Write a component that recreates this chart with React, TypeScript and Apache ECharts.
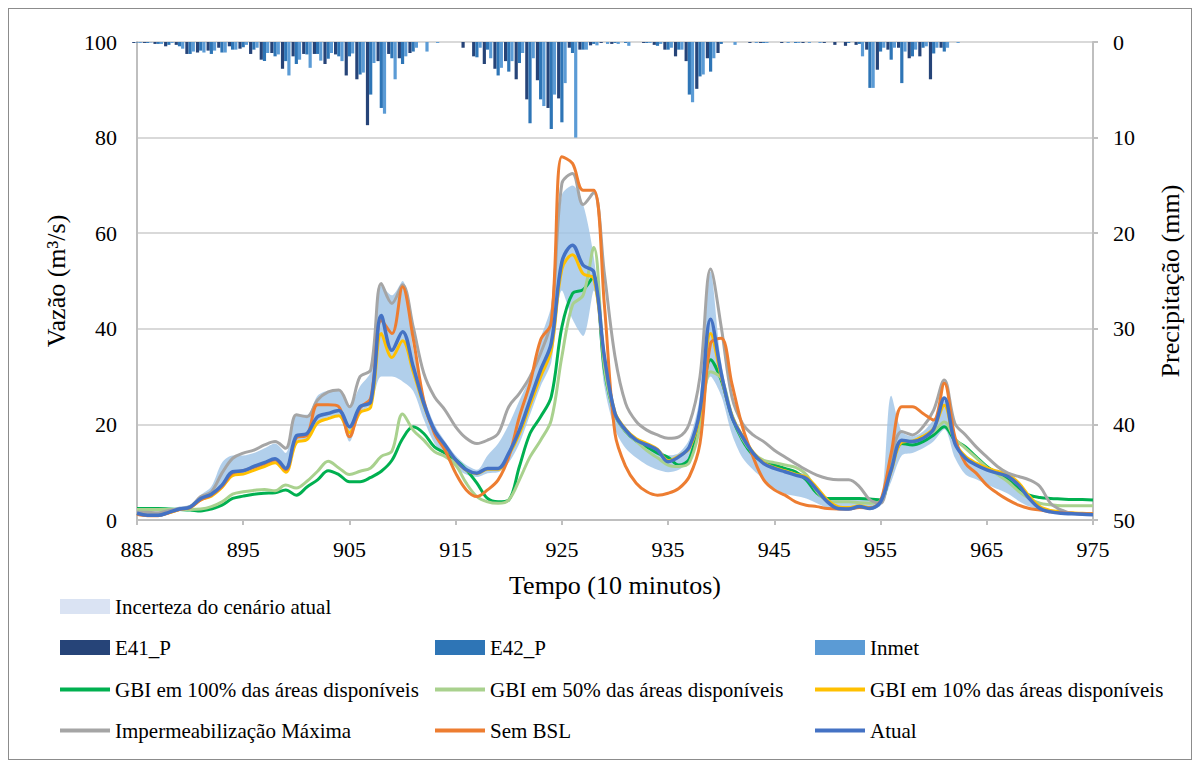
import React, { useEffect, useRef } from "react";
import * as echarts from "echarts";

// Time steps 885..975 (10-minute intervals)
const times: string[] = Array.from({ length: 91 }, (_, i) => String(885 + i));

// Precipitation (mm) — bars on inverted right axis
const e41P = [
  0.1, 0.1, 0.2, 0.45, 0.3, 1.25, 1.1, 0.9, 0.6, 0.45,
  0.7, 1.25, 1.85, 1.15, 2.8, 1.5, 1.25, 1.25, 2.3, 1.3,
  3.5, 3.9, 8.7, 2.0, 1.25, 1.7, 1.15, 0, 0, 0,
  0, 0.6, 1.5, 2.3, 2.8, 2.0, 3.9, 6.0, 4.0, 6.9,
  5.9, 0.6, 0.8, 0.35, 0.1, 0.2, 0, 0, 0.1, 0.3,
  0.8, 1.5, 2.0, 4.9, 1.7, 1.15, 0, 0, 0.1, 0.1,
  0, 0.1, 0, 0.1, 0, 0.1, 0.3, 0.4, 0.3, 0.8,
  2.9, 0.8, 0.6, 1.7, 1.5, 3.9, 0.6, 0, 0, 0,
  0, 0, 0, 0, 0, 0, 0, 0, 0, 0, 0,
];
const e42P = [
  0.05, 0.1, 0.2, 0.3, 0.45, 1.25, 0.9, 1.25, 1.1, 0.8,
  0.55, 0.8, 2.0, 1.5, 2.0, 2.3, 1.3, 1.25, 1.75, 1.5,
  1.5, 3.4, 5.5, 6.9, 1.7, 2.3, 1.0, 0, 0, 0,
  0, 0, 1.6, 0.8, 3.5, 3.1, 2.2, 8.5, 6.0, 9.1,
  8.4, 1.15, 0.8, 0.2, 0, 0.1, 0.1, 0, 0.1, 0.4,
  0.8, 0.8, 5.5, 3.6, 3.1, 0.2, 0, 0, 0, 0.1,
  0, 0, 0.1, 0, 0, 0, 0, 0.1, 0.2, 4.8,
  1.0, 1.85, 4.3, 1.5, 0.6, 1.2, 1.0, 0, 0, 0,
  0, 0, 0, 0, 0, 0, 0, 0, 0, 0, 0,
];
const inmet = [
  0.1, 0.05, 0.2, 0.1, 0.7, 1.0, 1.1, 0.9, 1.1, 0.8,
  0.3, 0.6, 1.15, 1.3, 3.5, 1.85, 2.7, 1.95, 1.15, 2.0,
  1.2, 3.2, 2.2, 7.5, 3.9, 1.5, 0.6, 1.0, 0.1, 0,
  0, 0, 0.6, 1.7, 2.7, 2.0, 1.15, 1.7, 6.7, 5.5,
  4.3, 10.0, 0.8, 0.35, 0.2, 0.2, 0.4, 0, 0.1, 0.2,
  0.6, 0.8, 6.3, 3.4, 1.7, 0, 0.3, 0, 0.1, 0.1,
  0, 0.1, 0.1, 0.1, 0.1, 0, 0, 0, 1.5, 4.8,
  0.6, 0.6, 1.0, 0.8, 0.45, 0.6, 0.6, 0.1, 0, 0,
  0, 0, 0, 0, 0, 0, 0, 0, 0, 0, 0,
];

// Flow (m³/s)
const atual = [
  1.4, 1.0, 1.0, 1.6, 2.3, 2.7, 4.5, 5.4, 7.3, 10.1,
  10.3, 11.2, 12.0, 12.8, 10.8, 17.6, 18.1, 21.6, 22.3, 22.9,
  19.5, 23.7, 24.7, 42.8, 35.5, 39.4, 32.1, 24.4, 18.8, 15.7,
  12.6, 10.5, 9.8, 10.8, 10.8, 14.0, 18.8, 25.1, 31.4, 37.0,
  54.0, 57.5, 53.3, 51.9, 34.2, 22.3, 18.8, 16.7, 15.7, 14.6,
  12.2, 13.2, 15.3, 23.0, 42.0, 30.7, 21.6, 17.4, 14.0, 11.8,
  10.8, 10.1, 9.4, 8.7, 6.3, 3.8, 2.4, 2.3, 2.8, 2.4,
  3.8, 10.5, 16.7, 16.4, 17.1, 19.0, 25.5, 16.0, 12.9, 11.5,
  10.5, 9.8, 9.1, 7.3, 4.5, 2.4, 1.7, 1.4, 1.3, 1.2, 1.1,
];
const impermMax = [
  1.7, 1.6, 1.5, 2.0, 2.4, 2.8, 4.9, 5.9, 9.8, 12.9,
  14.0, 14.6, 15.7, 16.4, 15.0, 22.0, 21.6, 25.1, 26.8, 27.2,
  23.7, 30.0, 31.4, 49.5, 45.3, 49.2, 40.4, 30.7, 25.8, 23.0,
  19.5, 17.1, 16.0, 16.7, 18.1, 23.7, 26.5, 30.0, 34.9, 41.8,
  70.4, 72.5, 66.0, 68.5, 51.6, 34.2, 24.4, 20.6, 18.8, 17.8,
  17.1, 17.4, 20.2, 30.0, 52.5, 40.4, 25.8, 20.2, 17.8, 16.4,
  14.6, 13.2, 11.8, 10.5, 9.4, 8.7, 8.4, 8.4, 7.0, 4.2,
  3.5, 13.2, 18.5, 17.8, 19.5, 23.0, 29.3, 20.2, 17.8, 15.3,
  13.2, 11.2, 9.8, 9.1, 8.4, 7.0, 3.5, 2.1, 1.4, 1.3, 1.2,
];
const semBSL = [
  1.2, 0.9, 0.9, 1.5, 2.2, 2.6, 4.2, 5.2, 7.0, 9.8,
  10.3, 11.0, 11.8, 12.6, 10.5, 17.2, 17.7, 24.1, 24.1, 23.7,
  17.4, 23.4, 25.5, 41.8, 39.0, 48.8, 38.0, 25.0, 18.1, 14.6,
  9.8, 6.3, 4.9, 6.3, 8.4, 13.2, 21.6, 28.6, 37.7, 41.2,
  76.0, 74.6, 69.0, 69.0, 45.0, 18.1, 11.2, 7.7, 5.9, 5.2,
  5.6, 6.6, 9.1, 16.0, 37.0, 38.0, 28.6, 19.5, 13.2, 8.4,
  6.3, 5.2, 3.8, 3.1, 2.8, 2.4, 2.3, 2.3, 2.6, 2.5,
  4.0, 14.0, 23.7, 23.7, 22.3, 20.9, 28.6, 17.4, 11.8, 9.8,
  7.3, 5.6, 4.2, 3.1, 2.4, 2.1, 1.7, 1.5, 1.4, 1.3, 1.3,
];
const gbi10 = [
  1.4, 1.0, 1.0, 1.5, 2.2, 2.6, 4.2, 5.0, 6.8, 9.3,
  9.6, 10.4, 11.2, 12.0, 10.0, 16.2, 16.8, 20.3, 21.2, 21.8,
  18.3, 22.5, 23.6, 39.0, 34.0, 37.5, 31.0, 24.0, 18.6, 15.6,
  12.5, 10.4, 9.7, 10.6, 10.6, 13.6, 18.0, 24.0, 30.0, 35.5,
  52.5, 55.5, 51.5, 50.5, 34.0, 22.5, 19.0, 17.0, 16.0, 14.8,
  12.4, 13.4, 15.0, 22.0, 39.0, 30.0, 21.8, 17.6, 14.2, 12.0,
  11.0, 10.3, 9.6, 9.0, 6.8, 4.2, 2.8, 2.6, 3.0, 2.6,
  3.8, 10.2, 16.3, 16.5, 17.5, 19.2, 24.0, 16.2, 13.3, 11.9,
  10.9, 10.2, 9.5, 7.8, 5.0, 2.8, 2.0, 1.7, 1.5, 1.4, 1.3,
];
const gbi100 = [
  2.4, 2.4, 2.4, 2.3, 2.2, 2.1, 1.9, 2.3, 3.1, 4.5,
  5.0, 5.4, 5.6, 5.7, 6.3, 5.2, 6.9, 8.4, 10.3, 9.5,
  8.0, 8.0, 8.9, 10.2, 12.5, 17.0, 19.5, 18.1, 15.3, 14.0,
  12.6, 10.5, 7.7, 4.5, 3.8, 4.2, 11.2, 18.1, 21.6, 25.8,
  40.4, 47.4, 48.2, 51.0, 31.4, 22.0, 18.5, 16.5, 15.3, 14.0,
  13.1, 11.5, 12.8, 21.6, 33.5, 29.3, 21.6, 16.7, 13.6, 12.2,
  11.5, 10.8, 10.1, 8.4, 5.6, 4.5, 4.5, 4.5, 4.5, 4.4,
  4.2, 11.2, 16.0, 15.7, 16.4, 17.8, 19.5, 16.7, 15.3, 13.2,
  11.2, 9.8, 8.4, 6.6, 5.2, 4.7, 4.5, 4.4, 4.3, 4.3, 4.2,
];
const gbi50 = [
  2.2, 2.2, 2.2, 2.2, 2.2, 2.2, 2.3, 2.8, 3.8, 5.4,
  5.9, 6.2, 6.4, 6.1, 7.3, 6.7, 8.1, 10.2, 12.3, 10.9,
  9.5, 10.2, 10.9, 13.3, 14.4, 22.2, 18.8, 16.7, 14.3, 13.3,
  11.5, 7.7, 4.9, 3.8, 3.5, 4.2, 8.4, 13.2, 16.7, 20.9,
  34.2, 45.0, 47.0, 57.0, 32.1, 22.0, 18.5, 16.5, 14.5, 13.0,
  11.5, 11.2, 12.0, 19.5, 31.0, 29.7, 22.0, 17.0, 14.0, 12.5,
  12.0, 11.5, 11.0, 9.5, 6.0, 4.0, 3.8, 3.8, 3.6, 3.5,
  4.0, 12.0, 16.5, 16.5, 17.5, 18.5, 20.5, 17.0, 15.0, 13.0,
  11.0, 9.5, 8.0, 6.0, 4.5, 3.5, 3.2, 3.0, 3.0, 3.0, 3.0,
];
// Uncertainty band of the current scenario
const bandLower = [
  1.0, 0.8, 0.8, 1.3, 2.0, 2.4, 4.0, 5.0, 6.5, 9.5,
  10.0, 10.7, 11.5, 12.2, 10.0, 16.5, 17.0, 20.5, 21.5, 22.0,
  16.4, 22.5, 24.0, 30.0, 30.0, 29.0, 27.0, 21.0, 16.0, 13.5,
  11.0, 9.5, 9.0, 9.8, 10.0, 12.0, 16.0, 22.0, 28.0, 33.0,
  48.0, 42.0, 38.5, 48.0, 28.0, 19.0, 15.0, 13.0, 11.5, 10.5,
  10.0, 10.5, 12.5, 20.0, 30.0, 26.0, 18.0, 13.0, 10.5, 8.5,
  6.5, 5.5, 5.0, 4.5, 3.5, 2.5, 2.2, 2.2, 2.5, 2.3,
  3.0, 8.0, 13.5, 14.0, 15.0, 16.5, 19.0, 13.0, 9.5, 8.5,
  7.5, 6.5, 5.5, 4.0, 2.8, 2.1, 1.6, 1.3, 1.2, 1.1, 1.0,
];
const bandUpper = [
  1.8, 1.4, 1.4, 2.0, 2.8, 3.2, 5.2, 7.0, 12.0, 13.5,
  13.5, 14.0, 15.0, 16.0, 14.0, 22.0, 22.0, 26.0, 27.0, 27.0,
  24.0, 28.0, 31.0, 49.0, 47.0, 50.0, 36.0, 26.0, 20.0, 16.5,
  13.5, 11.5, 10.5, 13.5, 16.0, 20.0, 25.0, 30.0, 38.0, 45.0,
  68.0, 70.0, 66.0, 55.0, 36.0, 23.0, 19.5, 17.0, 16.0, 15.0,
  13.5, 14.0, 17.0, 26.0, 52.0, 33.0, 23.0, 18.0, 14.5, 12.5,
  11.0, 10.5, 10.0, 9.5, 7.0, 4.5, 4.4, 4.3, 4.3, 4.3,
  4.5, 26.0, 18.5, 17.5, 18.5, 21.0, 25.0, 16.0, 13.5, 12.0,
  11.0, 10.5, 9.7, 7.5, 5.0, 2.5, 1.8, 1.5, 1.4, 1.3, 1.2,
];

const FONT = "'Liberation Serif', 'Times New Roman', serif";
const BAND_NAME = "Incerteza do cenário atual";

const legendRows: { name: string; col: number; row: number; kind: "band" | "bar" | "line" }[] = [
  { name: BAND_NAME, col: 0, row: 0, kind: "band" },
  { name: "E41_P", col: 0, row: 1, kind: "bar" },
  { name: "E42_P", col: 1, row: 1, kind: "bar" },
  { name: "Inmet", col: 2, row: 1, kind: "bar" },
  { name: "GBI em 100% das áreas disponíveis", col: 0, row: 2, kind: "line" },
  { name: "GBI em 50% das áreas disponíveis", col: 1, row: 2, kind: "line" },
  { name: "GBI em 10% das áreas disponíveis", col: 2, row: 2, kind: "line" },
  { name: "Impermeabilização Máxima", col: 0, row: 3, kind: "line" },
  { name: "Sem BSL", col: 1, row: 3, kind: "line" },
  { name: "Atual", col: 2, row: 3, kind: "line" },
];

export default function App() {
  const ref = useRef<HTMLDivElement>(null);
  useEffect(() => {
    if (!ref.current) return;
    const chart = echarts.init(ref.current, undefined, { renderer: "svg" });
    const colX = [51, 426, 806];
    const rowY = [587, 628, 670, 711];
    const legends = legendRows.map((l) => ({
      show: true,
      left: colX[l.col],
      top: rowY[l.row],
      padding: 0,
      icon: "rect",
      itemWidth: 50,
      itemHeight: l.kind === "line" ? 4 : 15,
      selectedMode: false,
      textStyle: { fontFamily: FONT, fontSize: 21, color: "#000" },
      data:
        l.kind === "band"
          ? [{ name: l.name, itemStyle: { color: "#DAE3F3", opacity: 1 } }]
          : [{ name: l.name }],
    }));

    const lineSeries = (name: string, data: number[], color: string, width: number) => ({
      name,
      type: "line",
      data,
      smooth: 0.35,
      symbol: "none",
      showSymbol: false,
      lineStyle: { color, width },
      itemStyle: { color },
      yAxisIndex: 0,
    });

    const barSeries = (name: string, data: number[], color: string) => ({
      name,
      type: "bar",
      data,
      yAxisIndex: 1,
      barWidth: 3.2,
      barGap: "0%",
      itemStyle: { color },
    });

    chart.setOption({
      animation: false,
      textStyle: { fontFamily: FONT },
      grid: { left: 128, top: 33, width: 956, height: 478, containLabel: false },
      legend: legends,
      xAxis: {
        type: "category",
        data: times,
        boundaryGap: false,
        name: "Tempo (10 minutos)",
        nameLocation: "middle",
        nameGap: 52,
        nameTextStyle: { fontFamily: FONT, fontSize: 26, color: "#000" },
        axisLine: { show: true, lineStyle: { color: "#BFBFBF", width: 2 } },
        axisTick: { show: true, interval: 9, length: 5, lineStyle: { color: "#BFBFBF", width: 2 } },
        axisLabel: { interval: 9, margin: 18, fontFamily: FONT, fontSize: 22, color: "#000" },
        splitLine: { show: false },
      },
      yAxis: [
        {
          type: "value",
          min: 0,
          max: 100,
          interval: 20,
          name: "Vazão (m³/s)",
          nameLocation: "middle",
          nameRotate: 90,
          nameGap: 68,
          nameTextStyle: { fontFamily: FONT, fontSize: 26, color: "#000" },
          axisLine: { show: true, lineStyle: { color: "#BFBFBF", width: 2 } },
          axisTick: { show: false },
          axisLabel: { margin: 20, fontFamily: FONT, fontSize: 22, color: "#000" },
          splitLine: { show: true, lineStyle: { color: "#D9D9D9", width: 2 } },
        },
        {
          type: "value",
          min: 0,
          max: 50,
          interval: 10,
          inverse: true,
          position: "right",
          name: "Precipitação (mm)",
          nameLocation: "middle",
          nameRotate: 90,
          nameGap: 64,
          nameTextStyle: { fontFamily: FONT, fontSize: 26, color: "#000" },
          axisLine: { show: true, lineStyle: { color: "#BFBFBF", width: 2 } },
          axisTick: { show: true, length: 5, lineStyle: { color: "#BFBFBF", width: 2 } },
          axisLabel: { margin: 20, fontFamily: FONT, fontSize: 22, color: "#000" },
          splitLine: { show: false },
        },
      ],
      series: [
        {
          name: "_lower",
          type: "line",
          stack: "band",
          data: bandLower,
          smooth: 0.3,
          symbol: "none",
          lineStyle: { width: 0, opacity: 0 },
          silent: true,
          yAxisIndex: 0,
        },
        {
          name: BAND_NAME,
          type: "line",
          stack: "band",
          data: bandUpper.map((u, i) => u - bandLower[i]),
          smooth: 0.3,
          symbol: "none",
          lineStyle: { width: 0, opacity: 0 },
          itemStyle: { color: "#DAE3F3" },
          areaStyle: { color: "#9DC3E6", opacity: 0.8 },
          silent: true,
          yAxisIndex: 0,
        },
        barSeries("E41_P", e41P, "#264478"),
        barSeries("E42_P", e42P, "#2E75B6"),
        barSeries("Inmet", inmet, "#5B9BD5"),
        lineSeries("GBI em 100% das áreas disponíveis", gbi100, "#00B050", 3),
        lineSeries("GBI em 50% das áreas disponíveis", gbi50, "#A9D18E", 3),
        lineSeries("GBI em 10% das áreas disponíveis", gbi10, "#FFC000", 3),
        lineSeries("Impermeabilização Máxima", impermMax, "#A5A5A5", 3),
        lineSeries("Sem BSL", semBSL, "#ED7D31", 3),
        lineSeries("Atual", atual, "#4472C4", 3.5),
      ],
    });
    return () => chart.dispose();
  }, []);

  return (
    <div
      style={{
        width: 1184,
        height: 752,
        border: "1px solid #8C8C8C",
        boxSizing: "border-box",
        background: "#fff",
      }}
    >
      <div ref={ref} style={{ width: 1182, height: 750 }} />
    </div>
  );
}
